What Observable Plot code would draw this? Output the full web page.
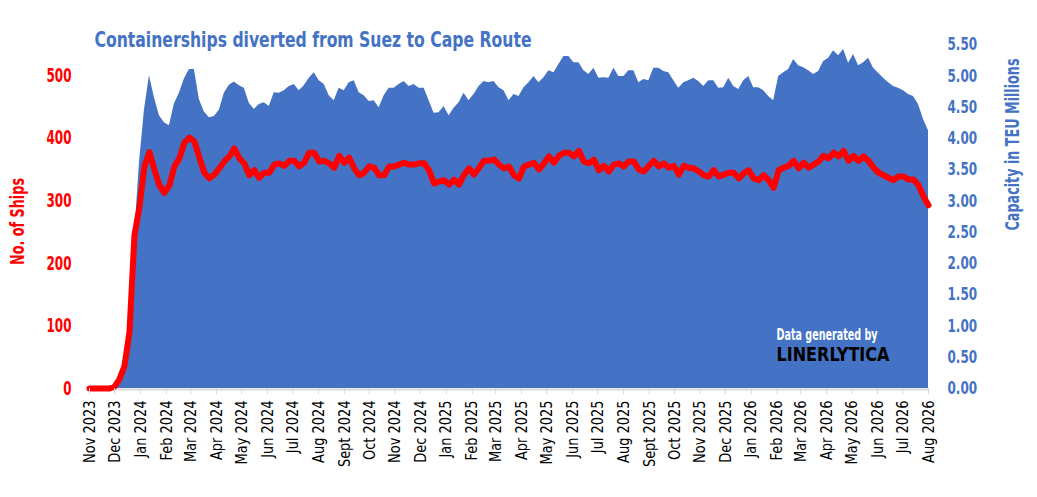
<!DOCTYPE html>
<html><head><meta charset="utf-8">
<script src="https://cdn.jsdelivr.net/npm/d3@7"></script>
<script src="https://cdn.jsdelivr.net/npm/@observablehq/plot@0.6"></script>
<style>body{margin:0;background:#fff}#chart{width:1037px;height:497px}</style>
</head><body><div id="chart"></div>
<script>
// ---- data ----
const startDate = "2023-11-01";
const endDate = "2026-08-01";
// capacity of diverted ships, million TEU (roughly every 6 days)
const capacityTEUm = [
0,0,0,0,0,0.05,0.15,0.35,0.9,2.4,3.6,4.45,5.0,4.65,4.36,4.25,4.2,4.55,4.72,4.95,
5.1,5.1,4.62,4.42,4.33,4.35,4.45,4.72,4.85,4.9,4.84,4.80,4.56,4.46,4.54,4.57,4.51,4.73,4.72,4.76,
4.83,4.86,4.76,4.84,4.96,5.05,4.92,4.86,4.68,4.60,4.80,4.76,4.89,4.92,4.73,4.68,4.59,4.60,4.49,4.68,
4.80,4.80,4.86,4.91,4.83,4.86,4.80,4.80,4.60,4.40,4.41,4.51,4.36,4.48,4.57,4.72,4.60,4.70,4.83,4.91,
4.89,4.91,4.81,4.76,4.60,4.70,4.67,4.81,4.89,4.99,4.89,4.97,5.08,5.05,5.18,5.31,5.31,5.21,5.21,5.08,
5.02,5.12,4.96,4.97,4.96,5.12,4.99,4.99,5.08,5.08,4.89,4.94,4.92,5.12,5.12,5.07,5.05,4.92,4.80,4.89,
4.92,4.96,4.91,4.83,4.92,4.92,4.80,4.81,4.96,4.83,4.78,4.92,4.99,4.81,4.81,4.76,4.67,4.60,4.99,5.05,
5.10,5.26,5.16,5.13,5.08,5.02,5.07,5.23,5.28,5.40,5.32,5.42,5.20,5.34,5.16,5.21,5.28,5.12,5.04,4.96,
4.89,4.83,4.80,4.76,4.70,4.67,4.54,4.30,4.12
];
// number of diverted ships
const shipCounts = [
0,0,0,0,0,3,15,36,90,245,290,355,378,350,325,313,325,355,368,393,
401,395,369,345,336,342,352,363,371,384,368,360,341,349,337,345,345,358,360,356,
364,364,355,361,377,377,363,364,360,353,372,361,369,352,341,345,355,353,341,341,
355,355,358,361,358,358,360,360,349,328,331,333,326,334,326,342,352,342,353,364,
364,366,358,352,355,341,336,355,358,361,350,360,371,361,372,377,377,371,380,363,
360,366,349,356,347,358,360,355,363,363,350,347,356,364,355,360,353,356,342,356,
353,352,347,341,339,349,339,342,345,345,336,344,349,336,333,341,333,321,349,353,
356,364,352,361,353,358,363,372,368,377,371,380,364,372,364,371,364,353,345,341,
337,333,339,339,334,334,325,307,293
];
const monthNames = ["Jan","Feb","Mar","Apr","May","Jun","Jul","Aug","Sept","Oct","Nov","Dec"];
const shipTicks = [0,100,200,300,400,500];
const capacityTicks = [0,0.5,1,1.5,2,2.5,3,3.5,4,4.5,5,5.5];
const title = "Containerships diverted from Suez to Cape Route";
const leftLabel = "No. of Ships";
const rightLabel = "Capacity in TEU Millions";
const creditSmall = "Data generated by";
const creditBig = "LINERLYTICA";

// ---- build ----
const BLUE = "#4472C4", RED = "#FF0000";
const FONT = "'DejaVu Sans Condensed','DejaVu Sans',sans-serif";
const t0 = new Date(startDate + "T00:00:00Z"), t1 = new Date(endDate + "T00:00:00Z");
const step = (t1 - t0) / (shipCounts.length - 1);
const data = shipCounts.map((s, i) => ({date: new Date(+t0 + i * step), ships: s, cap: capacityTEUm[i]}));
const months = d3.utcMonth.range(t0, new Date(+t1 + 1));
const monthLabel = d => monthNames[d.getUTCMonth()] + " " + d.getUTCFullYear();
const SCALE = 100; // 1 million TEU drawn at the height of 100 ships

const chart = Plot.plot({
  width: 1037, height: 497,
  marginLeft: 89, marginRight: 109, marginTop: 44, marginBottom: 109,
  style: {fontFamily: FONT, background: "white"},
  x: {type: "utc", domain: [t0, t1]},
  y: {domain: [0, 550]},
  marks: [
    Plot.areaY(data, {x: "date", y: d => d.cap * SCALE, fill: BLUE}),
    Plot.ruleY([0], {stroke: "#d9d9d9", strokeWidth: 2, dy: 1}),
    Plot.line(data, {x: "date", y: "ships", stroke: RED, strokeWidth: 6, strokeLinejoin: "round", strokeLinecap: "round"}),
    Plot.axisX({ticks: months, tickSize: 6, tickFormat: () => "", color: "#d9d9d9", label: null}),
    Plot.axisX({ticks: months, tickSize: 0, tickPadding: 12, tickRotate: -90, tickFormat: monthLabel, fill: "black", fontSize: 16, label: null}),
    Plot.axisY({anchor: "left", ticks: shipTicks, tickSize: 0, tickPadding: 18, color: RED, fontSize: 19, fontWeight: "bold", label: null}),
    Plot.axisY({anchor: "right", ticks: capacityTicks.map(v => v * SCALE), tickFormat: d => (d / SCALE).toFixed(2), tickSize: 0, tickPadding: 19, color: BLUE, fontSize: 18, fontWeight: "bold", label: null}),
    Plot.text([leftLabel], {frameAnchor: "left", dx: -72, dy: 5, rotate: -90, textAnchor: "middle", fill: RED, fontSize: 19, fontWeight: "bold"}),
    Plot.text([rightLabel], {frameAnchor: "right", dx: 84, dy: -72, rotate: -90, textAnchor: "middle", fill: BLUE, fontSize: 19, fontWeight: "bold"}),
    Plot.text([title], {frameAnchor: "top-left", dx: 5, dy: -13, textAnchor: "start", fill: BLUE, fontSize: 22, fontWeight: "bold"}),
    Plot.text([creditSmall], {frameAnchor: "bottom-right", dx: -152, dy: -49, textAnchor: "start", fill: "white", fontSize: 15, fontWeight: "bold"}),
    Plot.text([creditBig], {frameAnchor: "bottom-right", dx: -152, dy: -28, textAnchor: "start", fill: "black", fontSize: 19, fontWeight: "bold"})
  ]
});
document.getElementById("chart").append(chart);

// emulate the condensed face of the original by narrowing each label
const targets = new Map([[title, 437], [leftLabel, 87], [rightLabel, 172], [creditSmall, 101], [creditBig, 113]]);
d3.select(chart).selectAll("text").each(function () {
  const el = this, txt = el.textContent, g = el.parentNode;
  const aria = g && g.getAttribute ? (g.getAttribute("aria-label") || "") : "";
  const w = el.getComputedTextLength();
  if (!w) return;
  let target = null;
  if (targets.has(txt)) target = targets.get(txt);
  else if (aria.startsWith("x-axis tick label")) target = w * 0.9;
  else if (aria.startsWith("y-axis tick label")) target = w * (txt.includes(".") ? 0.74 : 0.7);
  if (target) {
    el.setAttribute("textLength", target.toFixed(1));
    el.setAttribute("lengthAdjust", "spacingAndGlyphs");
  }
});
</script></body></html>
